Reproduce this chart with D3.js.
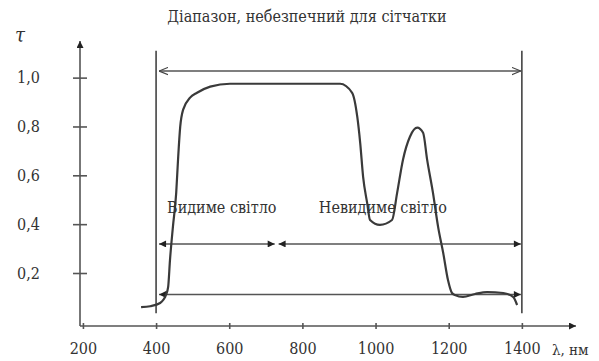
<!DOCTYPE html>
<html>
<head>
<meta charset="utf-8">
<script src="https://cdn.jsdelivr.net/npm/d3@7"></script>
<style>
  body { margin: 0; background: #fff; }
  svg text { font-family: "DejaVu Serif", serif; font-stretch: condensed; fill: #333; }
</style>
</head>
<body>
<script>
const width = 599;
const height = 361;

// transmission curve of the eye media
const wavelength = [359, 384, 411, 427, 433, 438, 446, 455, 460, 466, 474, 493, 512, 548, 602,
  903, 936, 950, 958, 966, 977, 985, 1012, 1045, 1059, 1075, 1094, 1114, 1130, 1141, 1157,
  1171, 1185, 1198, 1209, 1217, 1239, 1272, 1305, 1349, 1376, 1387];
const tau = [0.060, 0.064, 0.077, 0.110, 0.143, 0.253, 0.389, 0.528, 0.664, 0.799, 0.869, 0.918, 0.938, 0.963, 0.975,
  0.975, 0.938, 0.840, 0.733, 0.594, 0.487, 0.417, 0.397, 0.417, 0.528, 0.664, 0.758, 0.795, 0.774, 0.664, 0.528,
  0.389, 0.282, 0.171, 0.118, 0.110, 0.102, 0.114, 0.122, 0.118, 0.102, 0.069];

const xTicks = [200, 400, 600, 800, 1000, 1200, 1400];
const yTicks = [0.2, 0.4, 0.6, 0.8, 1.0];

// ranges drawn as double arrows: [from, to, level]
const hazardRange = [400, 1400, 1.027];
const visibleRange = [400, 727, 0.319];
const invisibleRange = [735, 1400, 0.319];
const bottomRange = [400, 1400, 0.112];
const boundaries = [400, 1400];
const boundaryTop = 1.11;
const boundaryBottom = 0.035;

const title = 'Діапазон, небезпечний для сітчатки';
const visibleLabel = 'Видиме світло';
const invisibleLabel = 'Невидиме світло';

const x = d3.scaleLinear().domain([192, 1548]).range([80, 576]);
const y = d3.scaleLinear().domain([-0.017, 1.15]).range([326, 41]);

const svg = d3.select('body').append('svg')
  .attr('width', width)
  .attr('height', height);

const defs = svg.append('defs');
defs.append('marker')
  .attr('id', 'solid')
  .attr('viewBox', '0 0 10 10')
  .attr('refX', 10).attr('refY', 5)
  .attr('markerWidth', 9).attr('markerHeight', 7)
  .attr('markerUnits', 'userSpaceOnUse')
  .attr('orient', 'auto-start-reverse')
  .append('path')
    .attr('d', 'M0,0L10,5L0,10Z')
    .attr('fill', '#222');
defs.append('marker')
  .attr('id', 'open')
  .attr('viewBox', '0 0 10 10')
  .attr('refX', 10).attr('refY', 5)
  .attr('markerWidth', 9).attr('markerHeight', 9)
  .attr('markerUnits', 'userSpaceOnUse')
  .attr('orient', 'auto-start-reverse')
  .append('path')
    .attr('d', 'M0,1L10,5L0,9')
    .attr('fill', 'none')
    .attr('stroke', '#444')
    .attr('stroke-width', 1.3);

// axes
const yAxis = svg.append('g')
  .attr('transform', `translate(${x.range()[0]},0)`)
  .call(d3.axisLeft(y).tickValues(yTicks).tickSize(0).tickPadding(40)
    .tickFormat(d => d3.format('.1f')(d).replace('.', ',')));
yAxis.attr('font-family', null);
yAxis.select('.domain').remove();
yAxis.selectAll('.tick line').attr('x1', -7).attr('x2', 7)
  .attr('stroke', '#555').attr('stroke-width', 1.6);
yAxis.selectAll('.tick text').attr('font-size', 16).attr('fill', '#333');

const xAxis = svg.append('g')
  .attr('transform', `translate(0,${y.range()[0]})`)
  .call(d3.axisBottom(x).tickValues(xTicks).tickSize(0).tickPadding(17)
    .tickFormat(d3.format('d')));
xAxis.attr('font-family', null);
xAxis.select('.domain').remove();
xAxis.selectAll('.tick line').attr('y1', -3).attr('y2', 3)
  .attr('stroke', '#555').attr('stroke-width', 1.6);
xAxis.selectAll('.tick text').attr('font-size', 16).attr('fill', '#333');

svg.append('line')
  .attr('x1', x.range()[0]).attr('x2', x.range()[1])
  .attr('y1', y.range()[0]).attr('y2', y.range()[0])
  .attr('stroke', '#555').attr('stroke-width', 1.6)
  .attr('marker-end', 'url(#solid)');
svg.append('line')
  .attr('x1', x.range()[0]).attr('x2', x.range()[0])
  .attr('y1', y.range()[0]).attr('y2', y.range()[1])
  .attr('stroke', '#555').attr('stroke-width', 1.6)
  .attr('marker-end', 'url(#solid)');

svg.append('text')
  .attr('x', 15).attr('y', 42)
  .attr('font-size', 20).attr('font-style', 'italic')
  .text('τ');
svg.append('text')
  .attr('x', 552).attr('y', 355)
  .attr('font-size', 15)
  .text('λ, нм');

// boundaries of the hazard range
svg.append('g')
  .selectAll('line')
  .data(boundaries)
  .enter().append('line')
    .attr('x1', d => x(d)).attr('x2', d => x(d))
    .attr('y1', y(boundaryTop)).attr('y2', y(boundaryBottom))
    .attr('stroke', '#444').attr('stroke-width', 1.6);

// range arrows
const arrows = [
  { r: hazardRange, m: 'open', inset: 3 },
  { r: visibleRange, m: 'solid', inset: 3 },
  { r: invisibleRange, m: 'solid', inset: 0 },
  { r: bottomRange, m: 'solid', inset: 3 }
];
svg.append('g')
  .selectAll('line')
  .data(arrows)
  .enter().append('line')
    .attr('x1', d => x(d.r[0]) + d.inset)
    .attr('x2', d => x(d.r[1]) - 1)
    .attr('y1', d => y(d.r[2]))
    .attr('y2', d => y(d.r[2]))
    .attr('stroke', '#555')
    .attr('stroke-width', 1.5)
    .attr('marker-start', d => `url(#${d.m})`)
    .attr('marker-end', d => `url(#${d.m})`);

// curve
const points = wavelength.map((d, i) => [d, tau[i]]);
const line = d3.line()
  .x(d => x(d[0]))
  .y(d => y(d[1]))
  .curve(d3.curveMonotoneX);
svg.append('path')
  .datum(points)
  .attr('d', line)
  .attr('fill', 'none')
  .attr('stroke', '#3a3a3a')
  .attr('stroke-width', 2.2);

// labels
svg.append('text')
  .attr('x', 307).attr('y', 22)
  .attr('text-anchor', 'middle')
  .attr('font-size', 16)
  .text(title);
svg.append('text')
  .attr('x', x(430)).attr('y', y(0.447))
  .attr('font-size', 16)
  .text(visibleLabel);
svg.append('text')
  .attr('x', x(845)).attr('y', y(0.447))
  .attr('font-size', 16)
  .text(invisibleLabel);
</script>
</body>
</html>
